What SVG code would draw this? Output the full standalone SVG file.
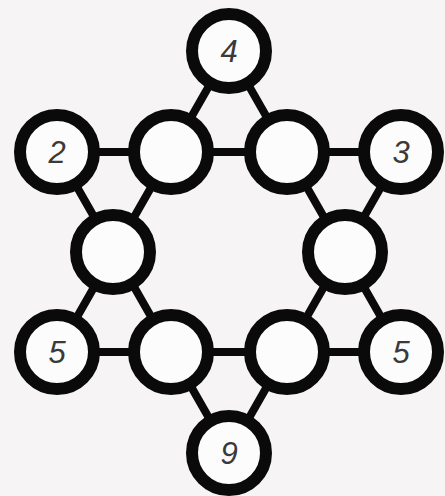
<svg xmlns="http://www.w3.org/2000/svg" width="445" height="496" viewBox="0 0 445 496">
<style>
.c{fill:#fdfcfc;stroke:#0a0a0a;stroke-width:12}
.l{stroke:#0a0a0a;stroke-width:8;fill:none}
.t{font-family:"Liberation Sans",Arial,sans-serif;font-style:italic;font-size:31px;fill:#3a3a3a;text-anchor:middle}
</style>
<rect width="445" height="496" fill="#f6f4f4"/>
<g id="connectors">
<polygon class="l" points="229,51 57,352 401,352"/>
<polygon class="l" points="229,453 57,152 401,152"/>
</g>
<g id="n4"><circle class="c" cx="229" cy="51" r="37"/><text class="t" x="229" y="62">4</text></g>
<g id="n2"><circle class="c" cx="57" cy="152" r="37"/><text class="t" x="57" y="163">2</text></g>
<g id="itl"><circle class="c" cx="171" cy="152" r="37"/></g>
<g id="itr"><circle class="c" cx="287" cy="152" r="37"/></g>
<g id="n3"><circle class="c" cx="401" cy="152" r="37"/><text class="t" x="401" y="163">3</text></g>
<g id="il"><circle class="c" cx="113" cy="252" r="37"/></g>
<g id="ir"><circle class="c" cx="345" cy="252" r="37"/></g>
<g id="n5l"><circle class="c" cx="57" cy="352" r="37"/><text class="t" x="57" y="363">5</text></g>
<g id="ibl"><circle class="c" cx="171" cy="352" r="37"/></g>
<g id="ibr"><circle class="c" cx="287" cy="352" r="37"/></g>
<g id="n5r"><circle class="c" cx="401" cy="352" r="37"/><text class="t" x="401" y="363">5</text></g>
<g id="n9"><circle class="c" cx="229" cy="453" r="37"/><text class="t" x="229" y="464">9</text></g>
</svg>
